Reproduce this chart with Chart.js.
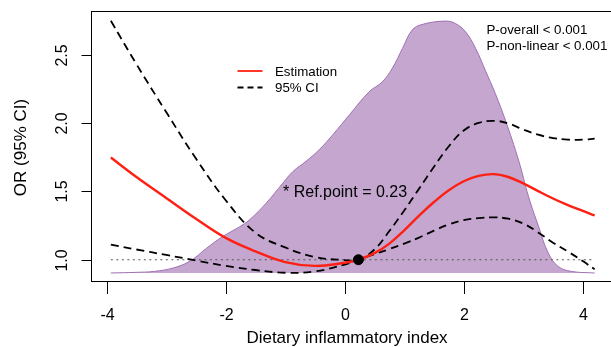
<!DOCTYPE html>
<html>
<head>
<meta charset="utf-8">
<script src="https://cdn.jsdelivr.net/npm/chart.js@4.4.1/dist/chart.umd.min.js"></script>
<style>
  html, body { margin: 0; padding: 0; background: #fff; overflow: hidden; }
  #wrap { width: 620px; height: 347px; position: relative; }
</style>
</head>
<body>
<div id="wrap"><canvas id="c"></canvas></div>
<script>
// Curva RCS (OR) con IC 95% y densidad de la exposición de fondo.
const xGrid    = [-3.93, -3.5, -3, -2.5, -2, -1.5, -1, -0.5, 0, 0.23, 0.5, 0.75, 1, 1.25, 1.5, 1.75, 2, 2.25, 2.5, 2.75, 3, 3.25, 3.5, 3.75, 4, 4.2];
const estimate = [1.748, 1.605, 1.452, 1.30, 1.16, 1.062, 0.983, 0.955, 0.978, 1.0, 1.048, 1.118, 1.215, 1.322, 1.422, 1.508, 1.574, 1.613, 1.626, 1.605, 1.558, 1.502, 1.448, 1.40, 1.357, 1.324];
const ciUpper  = [2.747, 2.43, 2.08, 1.74, 1.435, 1.198, 1.09, 1.02, 0.998, 1.0, 1.075, 1.21, 1.36, 1.52, 1.68, 1.83, 1.945, 2.0, 2.016, 1.997, 1.952, 1.914, 1.89, 1.878, 1.878, 1.885];
const ciLower  = [1.11, 1.075, 1.035, 0.995, 0.955, 0.925, 0.905, 0.915, 0.965, 1.0, 1.04, 1.078, 1.118, 1.162, 1.213, 1.258, 1.29, 1.305, 1.31, 1.30, 1.265, 1.2, 1.125, 1.06, 0.99, 0.93];

// densidad (escalada al eje del OR)
const densX = [-3.93, -3.5, -3.2, -2.88, -2.6, -2.32, -2.05, -1.77, -1.6, -1.32, -1.04, -0.87, -0.65, -0.43, -0.2, 0.08, 0.41, 0.63, 0.8, 0.97, 1.135, 1.3, 1.69, 1.86, 2.03, 2.2, 2.36, 2.53, 2.7, 2.92, 3.09, 3.26, 3.42, 3.59, 3.81, 4.2];
const densY = [0.903, 0.908, 0.915, 0.94, 0.99, 1.085, 1.17, 1.24, 1.292, 1.414, 1.56, 1.645, 1.72, 1.804, 1.914, 2.06, 2.228, 2.30, 2.40, 2.545, 2.68, 2.72, 2.745, 2.727, 2.667, 2.545, 2.387, 2.216, 2.02, 1.73, 1.46, 1.24, 1.05, 0.95, 0.915, 0.903];
const densBase = 0.903;

const refX = 0.23, refY = 1.0;
const refLineX = [-3.93, 4.2];

const xTicks = [-4, -2, 0, 2, 4];
const yTicks = [1.0, 1.5, 2.0, 2.5];
const yTickLabels = ["1.0", "1.5", "2.0", "2.5"];
const xLim = [-4.255, 4.525];
const yLim = [0.841, 2.815];

const FONT = '"Liberation Sans", Arial, Helvetica, sans-serif';
const RED = "rgb(255,32,20)";
const DASH = [8, 5];

const pts = (xs, ys) => xs.map((x, i) => ({ x, y: ys[i] }));

// Ejes, caja, leyenda y textos al estilo R base
const rDecor = {
  id: "rDecor",
  afterDraw(chart) {
    const { ctx, chartArea: a, scales: { x, y } } = chart;
    ctx.save();
    ctx.strokeStyle = "#000"; ctx.fillStyle = "#000"; ctx.lineWidth = 1; ctx.setLineDash([]);
    ctx.strokeRect(a.left, a.top, a.right - a.left, a.bottom - a.top);

    ctx.font = `16px ${FONT}`;
    ctx.textAlign = "center"; ctx.textBaseline = "alphabetic";
    xTicks.forEach((v) => {
      const px = Math.round(x.getPixelForValue(v)) + 0.5;
      ctx.beginPath(); ctx.moveTo(px, a.bottom); ctx.lineTo(px, a.bottom + 12.5); ctx.stroke();
      ctx.fillText(String(v), px, 320);
    });
    yTicks.forEach((v, i) => {
      const py = Math.round(y.getPixelForValue(v)) + 0.5;
      ctx.beginPath(); ctx.moveTo(a.left - 10, py); ctx.lineTo(a.left, py); ctx.stroke();
      ctx.save(); ctx.translate(67, py); ctx.rotate(-Math.PI / 2);
      ctx.fillText(yTickLabels[i], 0, 0); ctx.restore();
    });

    ctx.font = `17px ${FONT}`;
    ctx.fillText("Dietary inflammatory index", 347, 342.5);
    ctx.save(); ctx.translate(26, 147.5); ctx.rotate(-Math.PI / 2);
    ctx.fillText("OR (95% CI)", 0, 0); ctx.restore();

    // leyenda
    ctx.textAlign = "left";
    ctx.font = `13.3px ${FONT}`;
    ctx.strokeStyle = RED; ctx.lineWidth = 1.8;
    ctx.beginPath(); ctx.moveTo(237.5, 71); ctx.lineTo(262.5, 71); ctx.stroke();
    ctx.strokeStyle = "#000"; ctx.setLineDash([6, 4]);
    ctx.beginPath(); ctx.moveTo(237.5, 87.5); ctx.lineTo(262.5, 87.5); ctx.stroke();
    ctx.setLineDash([]);
    ctx.fillText("Estimation", 275, 76);
    ctx.fillText("95% CI", 275, 92.3);

    ctx.fillText("P-overall < 0.001", 486.5, 34.3);
    ctx.fillText("P-non-linear < 0.001", 486.5, 50);

    ctx.font = `16px ${FONT}`;
    ctx.fillText("* Ref.point = 0.23", 283, 196.5);
    ctx.restore();
  },
};

const curve = { pointRadius: 0, fill: false, tension: 0.4 };

new Chart(document.getElementById("c"), {
  type: "line",
  data: {
    datasets: [
      { ...curve, data: pts(densX, densY), order: 10, borderColor: "#A070B4", borderWidth: 1,
        backgroundColor: "#C4A6CE", fill: { value: densBase } },
      { data: pts(refLineX, [refY, refY]), order: 8, borderColor: "#555", borderWidth: 1,
        borderDash: [2, 3.5], pointRadius: 0, fill: false },
      { ...curve, data: pts(xGrid, ciLower), order: 5, borderColor: "#000", borderWidth: 1.8, borderDash: DASH },
      { ...curve, data: pts(xGrid, ciUpper), order: 4, borderColor: "#000", borderWidth: 1.8, borderDash: DASH },
      { ...curve, data: pts(xGrid, estimate), order: 3, borderColor: RED, borderWidth: 2.4 },
      { type: "scatter", data: [{ x: refX, y: refY }], order: 1, pointRadius: 5,
        backgroundColor: "#000", borderColor: "#000" },
    ],
  },
  options: {
    responsive: true, maintainAspectRatio: false, animation: false,
    layout: { padding: { left: 91.5, top: 11.5, right: 4, bottom: 65.5 } },
    plugins: { legend: { display: false }, tooltip: { enabled: false } },
    scales: {
      x: { type: "linear", min: xLim[0], max: xLim[1], display: false },
      y: { type: "linear", min: yLim[0], max: yLim[1], display: false },
    },
  },
  plugins: [rDecor],
});
</script>
</body>
</html>
